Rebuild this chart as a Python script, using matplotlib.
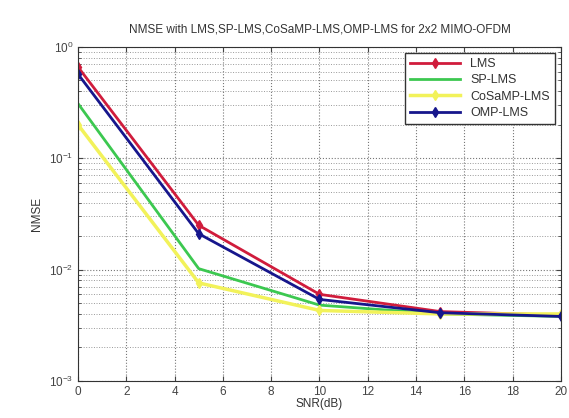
import matplotlib
matplotlib.use("Agg")
import matplotlib.pyplot as plt
import numpy as np

plt.rcParams['font.family'] = ['Liberation Sans', 'DejaVu Sans']

snr = [0, 5, 10, 15, 20]
lms = [0.66, 0.025, 0.0060, 0.0042, 0.0039]
sp_lms = [0.31, 0.0102, 0.0048, 0.0040, 0.0038]
cosamp_lms = [0.20, 0.0076, 0.0043, 0.0040, 0.0040]
omp_lms = [0.57, 0.021, 0.0054, 0.0041, 0.0038]

fig = plt.figure(figsize=(5.69, 4.18), dpi=100)
ax = fig.add_axes([0.137, 0.0885, 0.849, 0.7995])

ax.semilogy(snr, lms, color='#d01c3c', lw=2, marker='d', ms=5, label='LMS')
ax.semilogy(snr, sp_lms, color='#3cc850', lw=2, label='SP-LMS')
ax.semilogy(snr, cosamp_lms, color='#f2f25a', lw=2.5, marker='d', ms=5, label='CoSaMP-LMS')
ax.semilogy(snr, omp_lms, color='#16168c', lw=2, marker='d', ms=5, label='OMP-LMS')

ax.set_xlim(0, 20)
ax.set_ylim(1e-3, 1)
ax.set_xticks(range(0, 21, 2))
ax.grid(True, which='major', linestyle=':', color='#777777', lw=0.8)
ax.grid(True, which='minor', axis='y', linestyle=':', color='#999999', lw=0.7)
ax.tick_params(labelsize=8.5, direction='in', which='both', top=True, right=True, colors='#444444')
ax.set_title('NMSE with LMS,SP-LMS,CoSaMP-LMS,OMP-LMS for 2x2 MIMO-OFDM', fontsize=8.5, pad=10, color='#333333')
ax.set_xlabel('SNR(dB)', fontsize=8.5, labelpad=0, color='#333333')
ax.set_ylabel('NMSE', fontsize=8.5, color='#333333')
leg = ax.legend(loc='upper right', fontsize=9, fancybox=False, framealpha=1,
                edgecolor='#333333', handlelength=4, borderpad=0.4, labelspacing=0.35)
for t in leg.get_texts():
    t.set_color('#333333')
for s in ax.spines.values():
    s.set_color('#333333')

fig.savefig('out.png', dpi=100)
